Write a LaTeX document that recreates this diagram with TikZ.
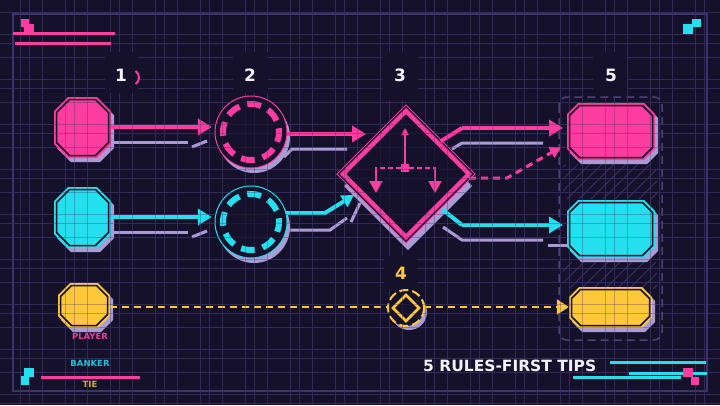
\documentclass[tikz,border=0pt]{standalone}
\usepackage{fontspec}
\setmainfont{DejaVu Sans}
\usetikzlibrary{arrows.meta,shapes.geometric,fit,calc}
\definecolor{bg}{HTML}{15112B}
\definecolor{gridc}{HTML}{2F2A5A}
\definecolor{gridd}{HTML}{3B346B}
\definecolor{pinkc}{HTML}{FF3CA0}
\definecolor{cyanc}{HTML}{24E0EE}
\definecolor{yelc}{HTML}{FFC83A}
\definecolor{lav}{HTML}{A99BD4}
\definecolor{darkl}{HTML}{130E24}
\definecolor{whitec}{HTML}{F2F0FA}
\definecolor{hatchc}{HTML}{3A3362}
\definecolor{groupc}{HTML}{4A4475}
\definecolor{legp}{HTML}{E8409A}
\definecolor{legc}{HTML}{2ABFD6}
\definecolor{legy}{HTML}{D9A838}

\newcommand\octa[6]{\path[#1] ({(#2)+(#6)},{#3}) -- ({(#4)-(#6)},{#3}) -- ({#4},{(#3)+(#6)}) -- ({#4},{(#5)-(#6)}) -- ({(#4)-(#6)},{#5}) -- ({(#2)+(#6)},{#5}) -- ({#2},{(#5)-(#6)}) -- ({#2},{(#3)+(#6)}) -- cycle;}
\newcommand\octnode[7]{%
 \octa{fill=lav, shift={(3,4)}}{#3}{#4}{#5}{#6}{#7}
 \octa{fill=#2}{#3}{#4}{#5}{#6}{#7}
 \octa{draw=darkl, line width=1.5pt}{(#3)+2.5}{(#4)+2.5}{(#5)-2.5}{(#6)-2.5}{(#7)-1}
 \node[inner sep=0pt, fit={(#3,#4) (#5,#6)}] (#1) {};}
\newcommand\ringnode[4]{%
 \fill[lav] ({#3+3},{#4+5}) circle[radius=36];
 \fill[bg] (#3,#4) circle[radius=36];
 \draw[#2, line width=1pt] (#3,#4) circle[radius=36];
 \draw[#2, line width=6pt, dash pattern=on 14pt off 8pt, dash phase=4pt] (#3,#4) circle[radius=28];
 \node[circle, minimum size=72pt, inner sep=0pt] (#1) at (#3,#4) {};}
\newcommand\gridlines{%
 \foreach \x in {20,42.5,...,712} \draw[gridc, line width=1pt] (\x,0) -- (\x,405);
 \foreach \x in {29,74,...,712} \draw[gridc, line width=0.7pt] (\x,0) -- (\x,405);
 \foreach \y in {12,34.5,...,404} \draw[gridc, line width=1pt] (0,\y) -- (720,\y);
 \foreach \y in {43,88,...,404} \draw[gridc, line width=0.7pt] (0,\y) -- (720,\y);
 \draw[gridd, line width=1.3pt] (13,14) rectangle (707,391);}

\tikzset{
 numtxt/.style={text=whitec, font=\bfseries\fontsize{17}{17}\selectfont, inner sep=0pt},
 legtxt/.style={font=\bfseries\fontsize{8.5}{9}\selectfont, inner sep=0pt},
 solidpink/.style={draw=pinkc, line width=4pt, -{Triangle[length=14pt,width=16pt]}},
 solidcyan/.style={draw=cyanc, line width=4pt, -{Triangle[length=14pt,width=16pt]}},
 shadowline/.style={draw=lav, line width=3pt},
 patch/.style={fill=bg},
}

\begin{document}
\begin{tikzpicture}[x=1pt,y=-1pt]
\fill[bg] (0,0) rectangle (720,405);
\useasboundingbox (0,0) rectangle (720,405);
\gridlines

% right group frame and hatch
\draw[groupc, line width=1.5pt, dash pattern=on 8pt off 5pt, rounded corners=8pt] (559,97) rectangle (662,340);
\begin{scope}
 \clip (563,164) rectangle (657,198);
 \foreach \i in {530,542,...,680} \draw[hatchc, line width=0.8pt] (\i,200) -- ++(40,-40);
\end{scope}
\begin{scope}
 \clip (563,262) rectangle (657,288);
 \foreach \i in {530,542,...,680} \draw[hatchc, line width=0.8pt] (\i,292) -- ++(40,-40);
\end{scope}

% shadow lines (decor)
\draw[shadowline] (111,142) -- (188,142);
\draw[shadowline] (192,147) -- (207,141);
\draw[shadowline] (111,232) -- (188,232);
\draw[shadowline] (192,237) -- (207,231);
\draw[shadowline] (284,157) -- (292,149) -- (347,149);
\draw[shadowline] (287,230) -- (330,230) -- (347,218);
\draw[shadowline] (351,222) -- (360,203);
\draw[shadowline] (452,149) -- (462,143) -- (543,143);
\draw[shadowline] (443,227) -- (462,240) -- (543,240);
\draw[shadowline] (548,245) -- (568,245);

% left nodes
\octnode{p1}{pinkc}{54}{97}{111}{158}{14}
\octnode{q1}{cyanc}{54}{187}{111}{248}{14}
\octnode{y1}{yelc}{58}{283}{110}{328}{12}

% circles
\ringnode{c1}{pinkc}{251}{132}
\ringnode{c2}{cyanc}{251}{222}

% diamond
\fill[lav] (408,122) -- (472,186) -- (408,250) -- (344,186) -- cycle;
\fill[bg] (406,105) -- (475,174) -- (406,243) -- (337,174) -- cycle;
\draw[pinkc, line width=1pt] (406,105) -- (475,174) -- (406,243) -- (337,174) -- cycle;
\draw[pinkc, line width=4.5pt] (406,111) -- (469,174) -- (406,237) -- (343,174) -- cycle;
\node[diamond, minimum width=126pt, minimum height=126pt, inner sep=0pt] (dm) at (406,174) {};
% icon
\fill[pinkc] (401,164) rectangle (409,172);
\node[inner sep=0pt, minimum size=8pt] (sq) at (405,168) {};
\draw[pinkc, line width=2pt, -{Triangle[length=7pt,width=7pt]}] (sq.north) -- (405,128);
\draw[pinkc, line width=2pt, dash pattern=on 5pt off 3pt] (sq.west) -- (376,168);
\draw[pinkc, line width=2pt, dash pattern=on 5pt off 3pt] (sq.east) -- (435,168);
\draw[pinkc, line width=2pt, -{Triangle[length=12pt,width=13pt]}] (376,167) -- (376,193);
\draw[pinkc, line width=2pt, -{Triangle[length=12pt,width=13pt]}] (435,167) -- (435,193);

% node 4
\fill[lav] (409,312) circle[radius=18];
\fill[bg] (406,308) circle[radius=18];
\draw[yelc, line width=2pt, dash pattern=on 9pt off 4pt] (406,308) circle[radius=18];
\draw[yelc, line width=2.5pt] (406,295) -- (419,308) -- (406,321) -- (393,308) -- cycle;
\node[circle, minimum size=36pt, inner sep=0pt] (d4) at (406,308) {};

% right nodes
\octnode{pr}{pinkc}{567}{103}{655}{160}{11}
\octnode{cr}{cyanc}{567}{200}{655}{258}{11}
\octnode{yr}{yelc}{569}{287}{652}{328}{10}

% connectors
\coordinate (t1) at (366,134);
\coordinate (b2) at (325,213);
\coordinate (t2) at (354,195);
\coordinate (b3) at (462,128);
\coordinate (t3) at (563,128);
\coordinate (b4) at (507,178);
\coordinate (t4) at (561,147);
\coordinate (b5) at (462,225);
\coordinate (t5) at (563,225);
\draw[solidpink, shorten >=3pt] (p1.east |- 0,127) -- (c1.west |- 0,127);
\draw[solidcyan, shorten >=3pt] (q1.east |- 0,217) -- (c2.west |- 0,217);
\draw[solidpink] (c1.east |- 0,134) -- (t1);
\draw[draw=cyanc, line width=4pt, -{Triangle[length=12pt,width=13pt]}] (c2.14) -- (b2) -- (t2);
\draw[draw=pinkc, line width=4pt] ($(dm.north east)+(3,-1)$) -- (b3);
\draw[solidpink] (b3) -- (t3);
\draw[draw=pinkc, line width=3pt, dash pattern=on 7pt off 5pt, -{Triangle[length=11pt,width=12pt]}] (dm.east |- 0,178) -- (b4) -- (t4);
\draw[draw=cyanc, line width=4pt] ($(dm.south east)+(5,4)$) -- (b5);
\draw[solidcyan] (b5) -- (t5);
\draw[draw=yelc, line width=2.5pt, dash pattern=on 7pt off 5pt] (y1.east |- 0,307) -- (d4.west |- 0,307);
\draw[draw=yelc, line width=2.5pt, dash pattern=on 7pt off 5pt, -{Triangle[length=12pt,width=15pt]}] (d4.east |- 0,307) -- (yr.west |- 0,307);

% grid overlay
\begin{scope}[opacity=0.3]
 \gridlines
\end{scope}

% number patches
\fill[patch] (105,52) rectangle (138,93);
\fill[patch] (233,52) rectangle (268,93);
\fill[patch] (383,52) rectangle (418,100);
\fill[patch] (593,52) rectangle (627,96);
\fill[patch] (384,256) rectangle (417,289);
\node[numtxt] (n1) at (121,75) {1};
\node[numtxt] (n2) at (250,75) {2};
\node[numtxt] (n3) at (400,75) {3};
\node[numtxt] (n5) at (611,75) {5};
\node[numtxt, text=yelc] (n4) at (401,273) {4};
\draw[pinkc, line width=2pt] (131,77.5) ++(-55:8) arc[start angle=-55, end angle=55, radius=8];

% legend
\node[legtxt, text=legp] (lp) at (90,336) {PLAYER};
\node[legtxt, text=legc] (lb) at (90,363) {BANKER};
\node[legtxt, text=legy] (lt) at (90,384) {TIE};

% title
\node[anchor=west, inner sep=0pt, text=whitec, font=\bfseries\fontsize{15.5}{16}\selectfont] (title) at (423,366) {5 RULES-FIRST TIPS};

% corner decorations
\fill[pinkc] (21,19) rectangle (29,27);
\fill[pinkc] (24,24) rectangle (34,33);
\fill[pinkc] (13,32) rectangle (115,34.5);
\fill[pinkc] (15,41.5) rectangle (111,44.5);
\fill[cyanc] (683,24) rectangle (693,34);
\fill[cyanc] (692,19) rectangle (701,27);
\fill[cyanc] (24,368) rectangle (34,377);
\fill[cyanc] (21,376) rectangle (29,385);
\fill[pinkc] (41,375.5) rectangle (140,378.5);
\fill[cyanc] (610,361) rectangle (706,363.5);
\fill[cyanc] (629,372) rectangle (707,374.5);
\fill[cyanc] (573,376) rectangle (681,378.5);
\fill[pinkc] (683,368) rectangle (693,377);
\fill[pinkc] (691,377) rectangle (699,385);
\end{tikzpicture}
\end{document}
